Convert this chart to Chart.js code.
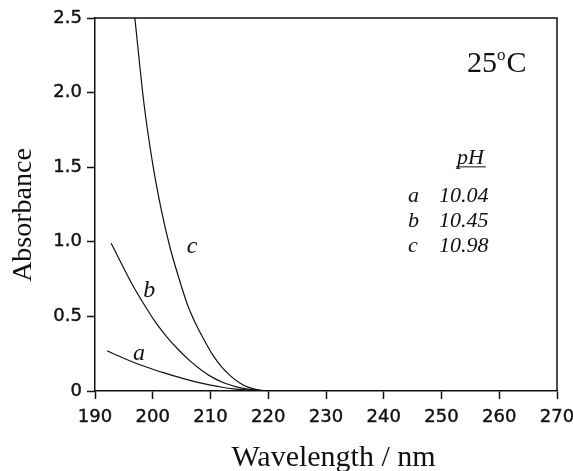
<!DOCTYPE html>
<html>
<head>
<meta charset="utf-8">
<script src="https://cdn.jsdelivr.net/npm/chart.js@4.4.1/dist/chart.umd.min.js"></script>
<style>
html,body{margin:0;padding:0;background:#fff;}
#wrap{width:573px;height:471px;}
</style>
</head>
<body>
<div id="wrap"><canvas id="chart" width="573" height="471"></canvas></div>
<script>
// ---- data ----
const wavelengthA = [192.1, 194, 196, 198, 200, 202, 204, 206, 208, 210, 212, 214, 216, 218, 220];
const absorbanceA = [0.270, 0.236, 0.203, 0.173, 0.146, 0.121, 0.098, 0.076, 0.056, 0.039, 0.025, 0.014, 0.007, 0.002, 0];

const wavelengthB = [192.8, 194.5, 196.5, 198.5, 200.5, 202.5, 204.5, 206.5, 208.5, 210.5, 212.5, 214.5, 216.5, 218.5, 220.5];
const absorbanceB = [0.99, 0.86, 0.71, 0.58, 0.46, 0.36, 0.275, 0.2, 0.138, 0.088, 0.052, 0.028, 0.013, 0.004, 0];

const wavelengthC = [196.9, 198.5, 200, 201.5, 203, 204.5, 206, 207.5, 209, 210.5, 212, 213.5, 215, 216.5, 218, 219.5, 222];
const absorbanceC = [2.5, 1.92, 1.52, 1.21, 0.96, 0.76, 0.58, 0.445, 0.335, 0.235, 0.158, 0.1, 0.056, 0.026, 0.009, 0.001, 0];

const xTickValues = [190, 200, 210, 220, 230, 240, 250, 260, 270];
const yTickValues = [0, 0.5, 1.0, 1.5, 2.0, 2.5];

const curveNames = ['a', 'b', 'c'];
const pHValues = ['10.04', '10.45', '10.98'];
const temperatureLabel = '25';

function pts(xs, ys) { return xs.map((x, i) => ({x: x, y: ys[i]})); }

const SERIF = '"Liberation Serif", "Times New Roman", serif';
const SANS = '"DejaVu Sans", sans-serif';

const lineStyle = {
  borderColor: '#111', borderWidth: 1.2, pointRadius: 0, fill: false,
  cubicInterpolationMode: 'monotone'
};

const annotationPlugin = {
  id: 'annot',
  afterDraw(chart) {
    const ctx = chart.ctx;
    const xs = chart.scales.x, ys = chart.scales.y;
    const ca = chart.chartArea;
    ctx.save();
    // frame top and right
    ctx.strokeStyle = '#111';
    ctx.lineWidth = 1.5;
    ctx.beginPath();
    ctx.moveTo(ca.left, ca.top);
    ctx.lineTo(ca.right, ca.top);
    ctx.lineTo(ca.right, ca.bottom);
    ctx.stroke();

    ctx.fillStyle = '#111';
    ctx.textBaseline = 'alphabetic';
    ctx.textAlign = 'left';
    const P = (x, y) => [xs.getPixelForValue(x), ys.getPixelForValue(y)];

    // curve labels
    ctx.font = 'italic 24px ' + SERIF;
    const curveLabelPos = [[196.6, 0.208], [198.36, 0.632], [205.88, 0.927]];
    curveNames.forEach((n, i) => {
      const [px, py] = P(curveLabelPos[i][0], curveLabelPos[i][1]);
      ctx.fillText(n, px, py);
    });

    // temperature
    let [tx, ty] = P(254.42, 2.14);
    ctx.font = '30px ' + SERIF;
    ctx.fillText(temperatureLabel, tx, ty);
    tx += ctx.measureText(temperatureLabel).width;
    ctx.font = '17px ' + SERIF;
    ctx.fillText('o', tx, ty - 12);
    tx += ctx.measureText('o').width + 1;
    ctx.font = '30px ' + SERIF;
    ctx.fillText('C', tx, ty);

    // pH table
    ctx.font = 'italic 22px ' + SERIF;
    const [hx, hy] = P(252.68, 1.519);
    ctx.fillText('pH', hx, hy);
    const w = ctx.measureText('pH').width;
    ctx.lineWidth = 1;
    ctx.beginPath();
    ctx.moveTo(hx - 1, hy + 2.5);
    ctx.lineTo(hx + w + 2, hy + 2.5);
    ctx.stroke();
    const rowY = [1.269, 1.101, 0.934];
    curveNames.forEach((n, i) => {
      const [ax, ay] = P(244.2, rowY[i]);
      ctx.fillText(n, ax, ay);
      const [vx] = P(249.57, rowY[i]);
      ctx.fillText(pHValues[i], vx, ay);
    });
    ctx.restore();
  }
};

new Chart(document.getElementById('chart'), {
  type: 'line',
  data: {
    datasets: [
      Object.assign({label: 'a', data: pts(wavelengthA, absorbanceA)}, lineStyle),
      Object.assign({label: 'b', data: pts(wavelengthB, absorbanceB)}, lineStyle),
      Object.assign({label: 'c', data: pts(wavelengthC, absorbanceC)}, lineStyle)
    ]
  },
  options: {
    responsive: false,
    devicePixelRatio: 1,
    animation: false,
    layout: {padding: {top: 18, right: 16, left: 0, bottom: 0}},
    plugins: {legend: {display: false}, tooltip: {enabled: false}},
    scales: {
      x: {
        type: 'linear', min: 190, max: 270,
        afterBuildTicks: s => { s.ticks = xTickValues.map(v => ({value: v})); },
        afterFit: s => { s.height = 80; s.paddingLeft = 0; s.paddingRight = 0; },
        grid: {drawOnChartArea: false, drawTicks: true, tickLength: 8, color: '#111', tickWidth: 1.5},
        border: {display: true, color: '#111', width: 1.5},
        ticks: {color: '#111', font: {family: SANS, size: 18}, padding: 8, maxRotation: 0, autoSkip: false,
          textStrokeColor: '#111', textStrokeWidth: 0.4,
          callback: v => String(v)},
        title: {display: true, text: '  Wavelength / nm', color: '#111',
          font: {family: SERIF, size: 30, lineHeight: 1}, padding: {top: 0, bottom: -2}}
      },
      y: {
        type: 'linear', min: 0, max: 2.5,
        afterBuildTicks: s => { s.ticks = yTickValues.map(v => ({value: v})); },
        afterFit: s => { s.width = 95; s.paddingTop = 0; s.paddingBottom = 0; },
        grid: {drawOnChartArea: false, drawTicks: true, tickLength: 8, color: '#111', tickWidth: 1.5},
        border: {display: true, color: '#111', width: 1.5},
        ticks: {color: '#111', font: {family: SANS, size: 18}, padding: 5, autoSkip: false,
          textStrokeColor: '#111', textStrokeWidth: 0.4,
          callback: v => (v === 0 ? '0' : v.toFixed(1))},
        title: {display: true, text: 'Absorbance   ', color: '#111',
          font: {family: SERIF, size: 28, lineHeight: 1}, padding: {top: 10, bottom: 0}}
      }
    }
  },
  plugins: [annotationPlugin]
});
</script>
</body>
</html>
